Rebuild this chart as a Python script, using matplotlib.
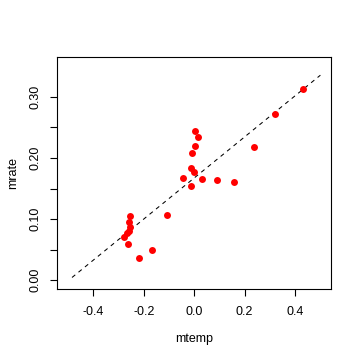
import matplotlib
matplotlib.use("Agg")
import matplotlib.pyplot as plt
import numpy as np

# scatter values
mtemp = [0.432, 0.321, 0.238, 0.003, 0.016, 0.003, -0.008, -0.013, -0.001,
         -0.044, 0.032, 0.091, 0.158, -0.013,
         -0.253, -0.257, -0.253, -0.258, -0.267, -0.277, -0.261, -0.220,
         -0.166, -0.107]
mrate = [0.313, 0.272, 0.2175, 0.245, 0.234, 0.219, 0.2077, 0.183, 0.1765,
         0.1667, 0.165, 0.1634, 0.160, 0.1535,
         0.1055, 0.096, 0.0864, 0.080, 0.0775, 0.070, 0.0585, 0.037,
         0.049, 0.106]

# fitted dashed line endpoints
fit_x = [-0.484, 0.50]
fit_y = [0.0044, 0.3356]

xticks = [-0.4, -0.2, 0.0, 0.2, 0.4]
yticks = [0.00, 0.05, 0.10, 0.15, 0.20, 0.25, 0.30]
ylabels = ["0.00", "", "0.10", "", "0.20", "", "0.30"]

plt.rcParams["font.family"] = ["Liberation Sans", "DejaVu Sans"]

fig = plt.figure(figsize=(3.6, 3.6), dpi=100)
ax = fig.add_axes([0.159, 0.196, 0.760, 0.645])

ax.plot(fit_x, fit_y, color="black", lw=0.75, linestyle=(0, (4, 4)))
ax.plot(mtemp, mrate, "o", color="red", markersize=5, markeredgewidth=0)

ax.set_xlim(-0.5426, 0.5414)
ax.set_ylim(-0.0152, 0.365)
ax.set_xticks(xticks)
ax.set_xticklabels([f"{t:.1f}" for t in xticks])
ax.set_yticks(yticks)
ax.set_yticklabels(ylabels, rotation=90, va="center")

ax.tick_params(direction="out", length=5, width=0.8, labelsize=9)
ax.tick_params(axis="x", pad=7)
ax.tick_params(axis="y", pad=6)
for s in ax.spines.values():
    s.set_linewidth(0.8)

ax.set_xlabel("mtemp", fontsize=9, labelpad=11)
ax.set_ylabel("mrate", fontsize=9, labelpad=8)

fig.savefig("out.png", dpi=100)
